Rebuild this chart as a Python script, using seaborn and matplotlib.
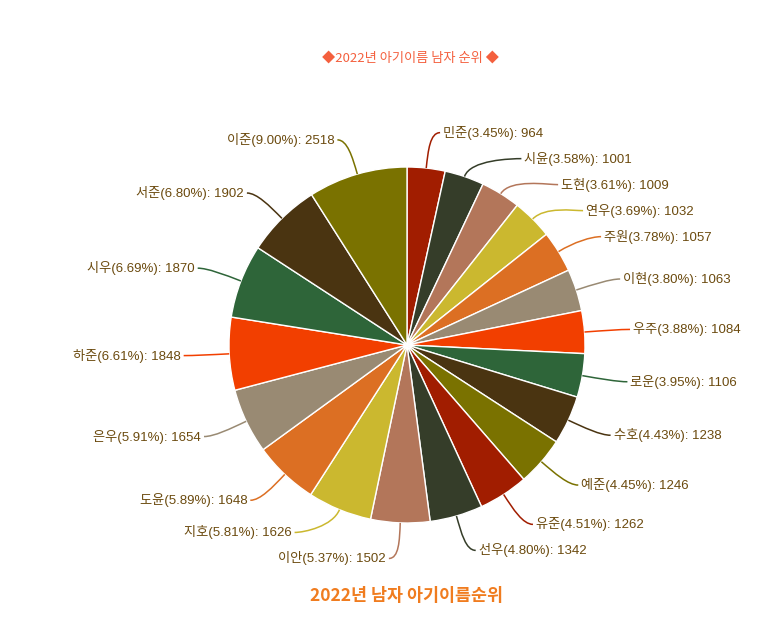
import numpy as np
import matplotlib
matplotlib.use("Agg")
import matplotlib.pyplot as plt
from matplotlib.path import Path
from matplotlib.patches import PathPatch
import seaborn as sns

names = ["민준", "시윤", "도현", "연우", "주원", "이현", "우주", "로운", "수호", "예준",
         "유준", "선우", "이안", "지호", "도윤", "은우", "하준", "시우", "서준", "이준"]
counts = [964, 1001, 1009, 1032, 1057, 1063, 1084, 1106, 1238, 1246,
          1262, 1342, 1502, 1626, 1648, 1654, 1848, 1870, 1902, 2518]
base_colors = ["#a11d00", "#353d29", "#b3765a", "#cbb82f", "#dc6f23",
               "#998a73", "#f23f00", "#2e6539", "#4a3411", "#7a7200"]
title_top = "◆2022년 아기이름 남자 순위 ◆"
title_bottom = "2022년 남자 아기이름순위"

sns.set_theme(style="white")
plt.rcParams['font.family'] = ['Liberation Sans', 'Noto Sans CJK KR', 'DejaVu Sans']

palette = sns.color_palette(base_colors * 2)

fig = plt.figure(figsize=(7.8, 6.2), dpi=100)
ax = fig.add_axes([0, 0, 1, 1])
ax.set_xlim(0, 780)
ax.set_ylim(0, 620)
ax.set_aspect("equal")
ax.axis("off")

cx, cy, R = 407, 275, 178
wedges, _ = ax.pie(counts, colors=palette, startangle=90, counterclock=False,
                   center=(cx, cy), radius=R, frame=True,
                   wedgeprops=dict(edgecolor="white", linewidth=1))
ax.set_xlim(0, 780)
ax.set_ylim(0, 620)
ax.axis("off")

total = sum(counts)
# mid angles (math convention, degrees)
labels = []
for w, n, c, col in zip(wedges, names, counts, palette):
    mid = np.deg2rad((w.theta1 + w.theta2) / 2)
    labels.append(dict(name=n, count=c, col=col, ang=mid,
                       pct=c / total * 100))

LR = R * 1.2
gap = 26
for lab in labels:
    lab["ly"] = cy + LR * np.sin(lab["ang"])
    lab["side"] = 1 if np.cos(lab["ang"]) >= 0 else -1

right = [l for l in labels if l["side"] == 1]
left = [l for l in labels if l["side"] == -1]
# right side: top to bottom, push down
right.sort(key=lambda l: -l["ly"])
for i in range(1, len(right)):
    if right[i]["ly"] > right[i - 1]["ly"] - gap:
        right[i]["ly"] = right[i - 1]["ly"] - gap
# left side: bottom to top, push up
left.sort(key=lambda l: l["ly"])
for i in range(1, len(left)):
    if left[i]["ly"] < left[i - 1]["ly"] + gap:
        left[i]["ly"] = left[i - 1]["ly"] + gap

text_color = "#6b4a0e"
for lab in labels:
    s = lab["side"]
    dy = lab["ly"] - cy
    dx = np.sqrt(max(LR ** 2 - dy ** 2, 0))
    lx = cx + s * dx
    ly = lab["ly"]
    ex = cx + R * np.cos(lab["ang"])
    ey = cy + R * np.sin(lab["ang"])
    mx = cx + R * 1.1 * np.cos(lab["ang"])
    my = cy + R * 1.1 * np.sin(lab["ang"])
    leg = 10
    verts = [(ex, ey), (mx, my), (lx, ly), (lx + s * leg, ly)]
    path = Path(verts, [Path.MOVETO, Path.CURVE4, Path.CURVE4, Path.CURVE4])
    ax.add_patch(PathPatch(path, facecolor="none", edgecolor=lab["col"], lw=1.1))
    ax.text(lx + s * (leg + 3), ly, f"{lab['name']}({lab['pct']:.2f}%): {lab['count']}",
            ha="left" if s == 1 else "right", va="center",
            fontsize=9.5, color=text_color)

fig.text(410 / 780, 1 - 58 / 620, title_top, ha="center", va="center",
         fontsize=9.5, color="#f4603e",
         family=['Noto Sans CJK KR', 'DejaVu Sans'])
fig.text(407 / 780, 1 - 596 / 620, title_bottom, ha="center", va="center",
         fontsize=12.5, color="#f07c1f", fontweight="bold",
         family=['Noto Sans CJK KR', 'DejaVu Sans'])

fig.savefig("out.png", dpi=100, facecolor="white")
